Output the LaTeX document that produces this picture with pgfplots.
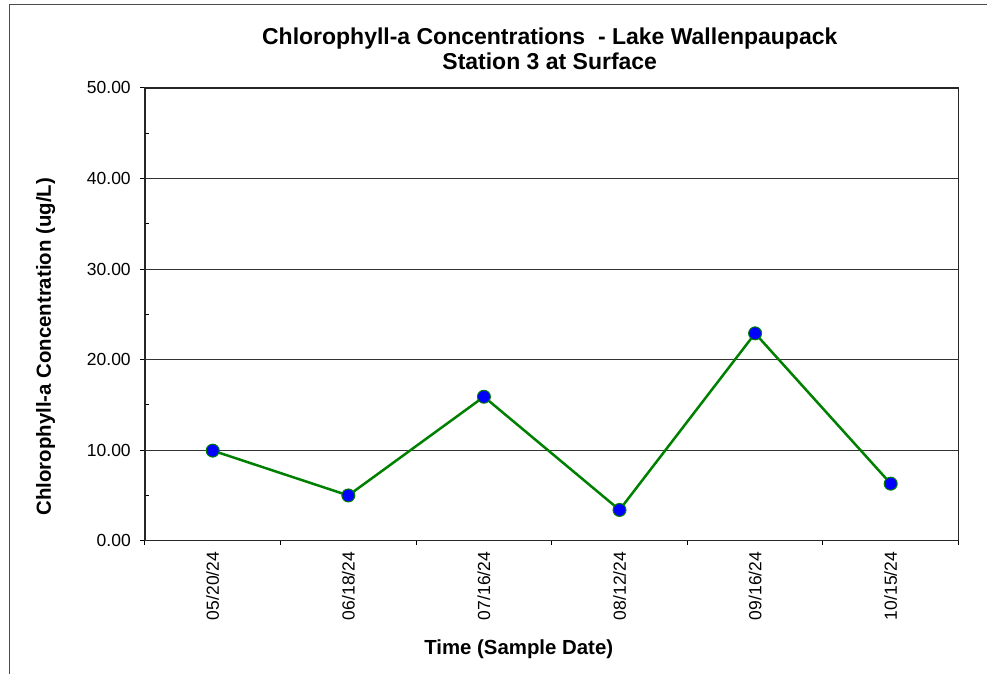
\documentclass[border=0pt]{standalone}
\usepackage{pgfplots}
\pgfplotsset{compat=1.18}
\usepackage{fontspec}
\setmainfont{Liberation Sans}
\definecolor{linegreen}{RGB}{0,128,0}
\definecolor{markblue}{RGB}{0,0,255}
\begin{document}
\begin{tikzpicture}
  \path (-145pt,-133pt) rectangle (842pt,541pt);
  \draw[black!70, line width=1pt] (-135pt,-133pt) -- (-135pt,536pt) -- (842pt,536pt);
  \begin{axis}[
      scale only axis,
      width=814pt, height=453pt,
      xmin=0, xmax=6, ymin=0, ymax=50,
      xtick={0.5,1.5,2.5,3.5,4.5,5.5},
      xticklabels={05/20/24,06/18/24,07/16/24,08/12/24,09/16/24,10/15/24},
      minor xtick={0,1,2,3,4,5,6},
      ytick={0,10,20,30,40,50},
      minor ytick={5,15,25,35,45},
      xtick pos=bottom, ytick pos=left,
      tick align=outside,
      major tick length=5pt, minor tick length=4pt,
      major x tick style={draw=none},
      minor y tick style={xshift=4pt},
      tick style={black, line width=1pt},
      ymajorgrids,
      major grid style={black!80, line width=0.8pt},
      axis line style={black!85, line width=1.4pt},
      /pgf/number format/.cd, fixed, fixed zerofill, precision=2, assume math mode=true,
      /pgfplots/.cd,
      tick label style={font=\fontsize{17.5}{20}\selectfont},
      yticklabel style={anchor=east, inner sep=0pt, xshift=-9pt},
      xticklabel style={rotate=90, anchor=east, inner sep=0pt, xshift=-6pt},
    ]
    \addplot[linegreen, line width=2.5pt, mark=*, mark size=6.5pt,
      mark options={fill=markblue, draw=linegreen, line width=1pt}]
      coordinates {(0.5,9.95) (1.5,5.0) (2.5,15.9) (3.5,3.4) (4.5,22.9) (5.5,6.3)};
  \end{axis}
  \node[anchor=base, font=\fontsize{23}{27}\selectfont\bfseries] at (405pt,496pt) {Chlorophyll-a Concentrations\ \ - Lake Wallenpaupack};
  \node[anchor=base, font=\fontsize{23}{27}\selectfont\bfseries] at (405pt,471pt) {Station 3 at Surface};
  \node[anchor=base, font=\fontsize{20.4}{24}\selectfont\bfseries] at (374pt,-114pt) {Time (Sample Date)};
  \node[anchor=base, rotate=90, font=\fontsize{20.4}{24}\selectfont\bfseries] at (-94pt,194pt) {Chlorophyll-a Concentration (ug/L)};
\end{tikzpicture}
\end{document}
